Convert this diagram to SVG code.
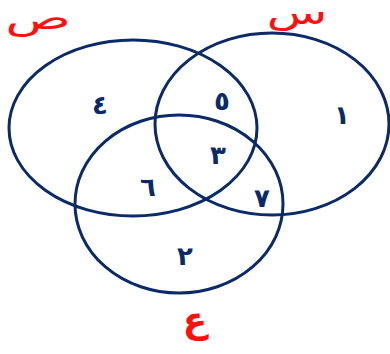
<svg xmlns="http://www.w3.org/2000/svg" width="390" height="354" viewBox="0 0 390 354">
<style>
.set{fill:none;stroke:#0b2a68;stroke-width:3}
.num{font-family:"DejaVu Sans",sans-serif;font-size:26px;font-weight:bold;fill:#0b2a68;text-anchor:middle}
.lbl{font-family:"DejaVu Sans",sans-serif;font-size:32px;fill:#ff1010;text-anchor:middle}
</style>
<rect width="390" height="354" fill="#fff"/>
<g id="set-sad">
<ellipse class="set" cx="133" cy="128" rx="124" ry="88"/>
<text class="lbl" transform="translate(38,29) scale(1.7,1)">ص</text>
</g>
<g id="set-sin">
<ellipse class="set" cx="272" cy="124" rx="117" ry="91"/>
<text class="lbl" transform="translate(297,24) scale(1.55,1)">س</text>
</g>
<g id="set-ain">
<ellipse class="set" cx="179" cy="204" rx="104" ry="89"/>
<text class="lbl" style="font-weight:bold;font-size:36px" x="195" y="332">ع</text>
</g>
<g id="regions">
<text class="num" x="100" y="114">٤</text>
<text class="num" x="222" y="110">٥</text>
<text class="num" x="342" y="124">١</text>
<text class="num" x="218" y="164">٣</text>
<text class="num" x="148" y="196">٦</text>
<text class="num" x="262" y="207">٧</text>
<text class="num" x="185" y="265">٢</text>
</g>
</svg>
